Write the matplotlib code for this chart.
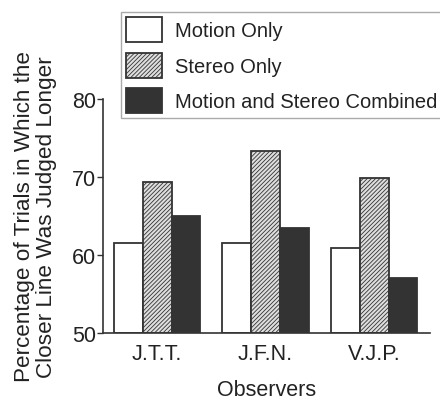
import matplotlib
matplotlib.use("Agg")
import matplotlib.pyplot as plt
import numpy as np

plt.rcParams['font.family'] = ['Liberation Sans', 'DejaVu Sans']
plt.rcParams['hatch.color'] = '#888888'
plt.rcParams['hatch.linewidth'] = 0.6

observers = ["J.T.T.", "J.F.N.", "V.J.P."]
series_names = ["Motion Only", "Stereo Only", "Motion and Stereo Combined"]
motion_only = [61.5, 61.5, 60.9]
stereo_only = [69.4, 73.3, 69.9]
combined = [65.0, 63.5, 57.0]
yticks = [50, 60, 70, 80]

fig = plt.figure(figsize=(4.4, 4.02), dpi=100)
ax = fig.add_axes([103/440, 68/402, 327/440, 234/402])

x = np.arange(len(observers))
w = 0.267
ec = '#333333'
lw = 1.3
b1 = ax.bar(x - w, np.array(motion_only) - 50, w, bottom=50, facecolor='white', edgecolor=ec, linewidth=lw, label=series_names[0])
b2 = ax.bar(x, np.array(stereo_only) - 50, w, bottom=50, facecolor='#dedede', edgecolor=ec, linewidth=lw, hatch='////////', label=series_names[1])
b3 = ax.bar(x + w, np.array(combined) - 50, w, bottom=50, facecolor='#333333', edgecolor=ec, linewidth=lw, label=series_names[2])

ax.set_ylim(50, 80)
ax.set_xlim(-0.498, 2.516)
ax.set_yticks(yticks)
ax.set_xticks(x)
ax.set_xticklabels(observers)
ax.spines['top'].set_visible(False)
ax.spines['right'].set_visible(False)
for s in ['left', 'bottom']:
    ax.spines[s].set_color('#333333')
    ax.spines[s].set_linewidth(1.2)
ax.tick_params(axis='y', direction='out', length=4, width=1, color='#333333', labelsize=15.5, labelcolor='#222222', pad=1)
ax.tick_params(axis='x', length=0, labelsize=15.5, labelcolor='#222222', pad=7)
ax.set_xlabel("Observers", fontsize=15.5, color='#222222', labelpad=11)
ax.set_ylabel("Percentage of Trials in Which the\nCloser Line Was Judged Longer", fontsize=16.2, color='#222222', labelpad=11, linespacing=1.05)

leg = fig.legend(handles=[b1, b2, b3], labels=series_names, loc='upper left',
                 bbox_to_anchor=(121/440, 1 - 13/402), bbox_transform=fig.transFigure,
                 borderaxespad=0, fontsize=14.5, handlelength=1.79, handleheight=1.54,
                 labelspacing=0.52, borderpad=0.25, handletextpad=0.62, fancybox=False,
                 framealpha=1, edgecolor='#aaaaaa')
for t in leg.get_texts():
    t.set_color('#222222')
leg.get_frame().set_linewidth(1.0)

fig.savefig("out.png", dpi=100)
